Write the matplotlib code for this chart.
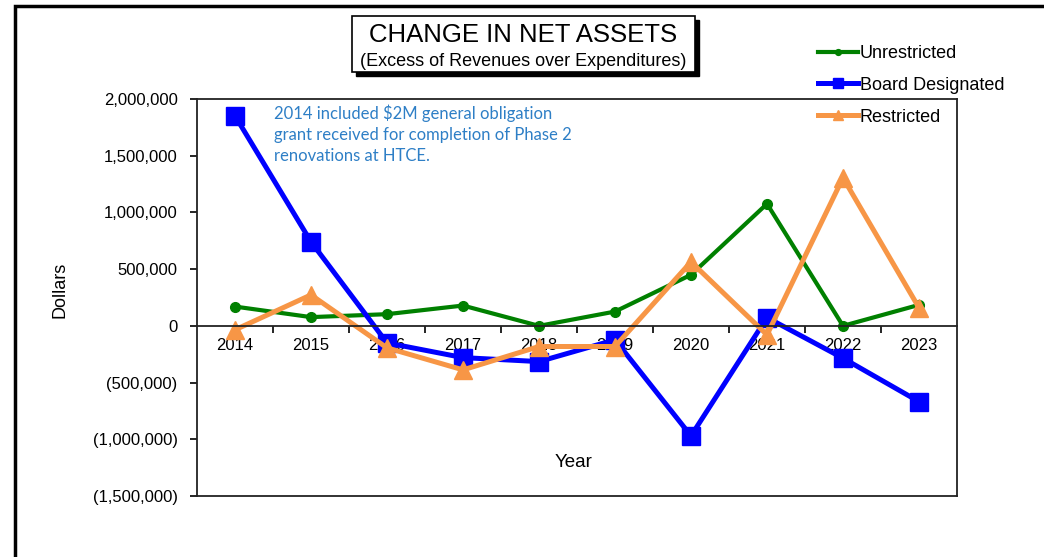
import numpy as np
import matplotlib
matplotlib.use("Agg")
import matplotlib.pyplot as plt
from matplotlib.patches import Rectangle
from matplotlib.ticker import FuncFormatter, FixedLocator

plt.rcParams['font.family'] = ['Liberation Sans', 'DejaVu Sans']

# données
years = ["2014", "2015", "2016", "2017", "2018", "2019", "2020", "2021", "2022", "2023"]
unrestricted = [170000, 77000, 103000, 179000, 0, 126000, 450000, 1076000, 0, 185000]
board_designated = [1852000, 741000, -150000, -280000, -315000, -123000, -970000, 73000, -285000, -668000]
restricted = [-35000, 273000, -194000, -388000, -182000, -182000, 564000, -79000, 1305000, 159000]

W, H = 1044, 557
fig = plt.figure(figsize=(W / 100, H / 100), dpi=100)
ax = fig.add_axes([197 / W, 1 - 496 / H, (957 - 197) / W, (496 - 99) / H])

x = np.arange(len(years))
ax.plot(x, unrestricted, color="#008000", lw=3, marker="o", ms=7, label="Unrestricted")
ax.plot(x, board_designated, color="#0000FF", lw=3.6, marker="s", ms=12.5, label="Board Designated")
ax.plot(x, restricted, color="#F79646", lw=3.6, marker="^", ms=12.5, label="Restricted")

ax.set_xlim(-0.5, len(years) - 0.5)
ax.set_ylim(-1500000, 2000000)
ax.set_yticks(np.arange(-1500000, 2000001, 500000))
ax.yaxis.set_major_formatter(FuncFormatter(
    lambda v, p: "0" if v == 0 else (f"{v:,.0f}" if v > 0 else f"({-v:,.0f})")))
ax.tick_params(axis="y", direction="out", length=5, width=1.2, labelsize=12, pad=9)

# axe des x au niveau de zéro
ax.spines["bottom"].set_position(("data", 0))
for s in ax.spines.values():
    s.set_linewidth(1.3)
    s.set_color("#222222")
ax.plot([0, 1], [0, 0], transform=ax.transAxes, color="#222222", lw=1.3, clip_on=False)
ax.set_xticks(x)
ax.set_xticklabels(years)
ax.xaxis.set_minor_locator(FixedLocator(x[:-1] + 0.5))
ax.tick_params(axis="x", which="major", length=0, labelsize=12, pad=9)
ax.tick_params(axis="x", which="minor", direction="out", length=5, width=1.2)
ax.set_axisbelow(True)

ax.text(0.495, 0.085, "Year", transform=ax.transAxes, fontsize=13.5, ha="center", va="center")
fig.text(60 / W, 1 - 290 / H, "Dollars", rotation=90, fontsize=13, ha="center", va="center")

fig.text(274 / W, 1 - 105 / H,
         "2014 included $2M general obligation\ngrant received for completion of Phase 2\nrenovations at HTCE.",
         color="#2E7FC6", fontsize=12, family="Lato",
         ha="left", va="top", linespacing=1.35)

# titre encadré avec ombre
fig.patches.append(Rectangle((356 / W, 1 - 76 / H), (695 - 352) / W, (72 - 16) / H,
                             transform=fig.transFigure, facecolor="black", edgecolor="black"))
fig.patches.append(Rectangle((352 / W, 1 - 72 / H), (695 - 352) / W, (72 - 16) / H,
                             transform=fig.transFigure, facecolor="white", edgecolor="black", lw=1.2))
fig.text(523 / W, 1 - 35 / H, "CHANGE IN NET ASSETS", fontsize=18.5, ha="center", va="center")
fig.text(523 / W, 1 - 62 / H, "(Excess of Revenues over Expenditures)", fontsize=13, ha="center", va="center")

# cadre extérieur
fig.patches.append(Rectangle((15 / W, -0.05), 1.1, 1 - 6 / H + 0.05, transform=fig.transFigure,
                             facecolor="none", edgecolor="black", lw=2.5, clip_on=False))

fig.legend(loc="upper left", bbox_to_anchor=(818 / W, 1 - 45 / H), frameon=False,
           fontsize=13, handlelength=2.2, handletextpad=0.1, labelspacing=0.82,
           markerscale=0.6, borderpad=0, borderaxespad=0)

fig.savefig("out.png", dpi=100)
